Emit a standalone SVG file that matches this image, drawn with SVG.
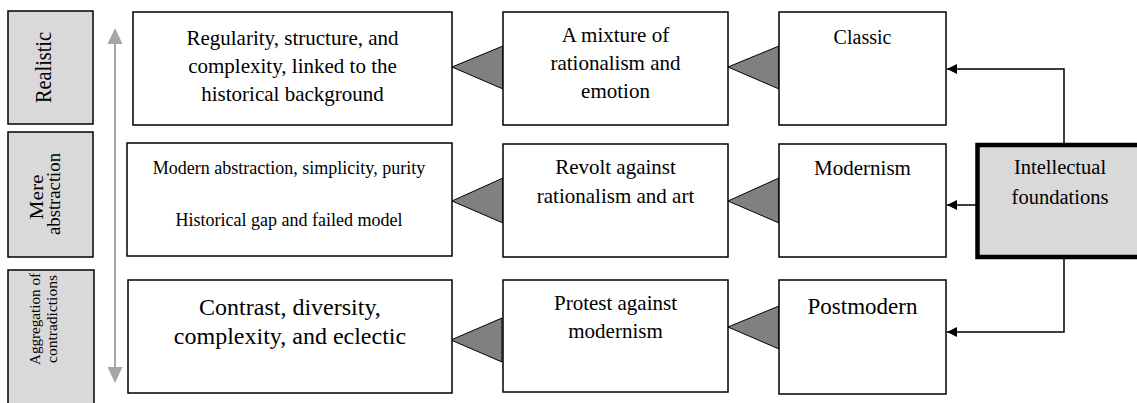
<svg xmlns="http://www.w3.org/2000/svg" width="1137" height="403" viewBox="0 0 1137 403">
<style>
text{font-family:"Liberation Serif","Times New Roman",serif;fill:#000;text-anchor:middle}
.box{fill:#fff;stroke:#000;stroke-width:1.5}
.lbl{fill:#d9d9d9;stroke:#000;stroke-width:1.5}
.tri{fill:#808080;stroke:#000;stroke-width:1}
.con{fill:none;stroke:#000;stroke-width:1.5}
.gray{stroke:#a6a6a6;stroke-width:2;fill:none}
</style>
<defs>
<marker id="ah" viewBox="0 0 10 10" refX="10" refY="5" markerWidth="10" markerHeight="10" markerUnits="userSpaceOnUse" orient="auto">
<path d="M0,0 L10,5 L0,10 Z" fill="#000"/>
</marker>
</defs>
<rect width="1137" height="403" fill="#fff"/>

<g id="label-realistic">
<rect class="lbl" x="8" y="11" width="85" height="113"/>
<text transform="translate(51,67.5) rotate(-90)" font-size="23" textLength="71" lengthAdjust="spacingAndGlyphs">Realistic</text>
</g>
<g id="label-mere">
<rect class="lbl" x="8" y="132" width="85" height="125"/>
<text transform="translate(43,197) rotate(-90)" font-size="18" textLength="45" lengthAdjust="spacingAndGlyphs">Mere</text>
<text transform="translate(60,194) rotate(-90)" font-size="18" textLength="82" lengthAdjust="spacingAndGlyphs">abstraction</text>
</g>
<g id="label-aggregation">
<rect class="lbl" x="8" y="270" width="86" height="140"/>
<text transform="translate(40,319) rotate(-90)" font-size="15.5" textLength="92" lengthAdjust="spacingAndGlyphs">Aggregation of</text>
<text transform="translate(57,319) rotate(-90)" font-size="15.5" textLength="88" lengthAdjust="spacingAndGlyphs">contradictions</text>
</g>

<g id="connectors">
<line class="gray" x1="115" y1="42" x2="115" y2="369"/>
<path d="M115,28 L122.5,44 L107.5,44 Z" fill="#a6a6a6"/>
<path d="M115,383 L122.5,367 L107.5,367 Z" fill="#a6a6a6"/>
<polygon class="tri" points="452,67 503,46 503,89"/>
<polygon class="tri" points="728,67 779,46 779,89"/>
<polygon class="tri" points="452,201 503,178 503,223"/>
<polygon class="tri" points="728,201 779,178 779,223"/>
<polygon class="tri" points="451,340 502,318 502,362"/>
<polygon class="tri" points="728,327 779,306 779,349"/>
<path class="con" d="M1064,143 L1064,69 L947,69" marker-end="url(#ah)"/>
<path class="con" d="M976,205 L947,205" marker-end="url(#ah)"/>
<path class="con" d="M1064,259 L1064,332 L947,332" marker-end="url(#ah)"/>
</g>

<g id="n-regularity">
<rect class="box" x="133" y="12" width="319" height="113"/>
<text x="292.5" y="45" font-size="21">Regularity, structure, and</text>
<text x="292.5" y="73" font-size="21">complexity, linked to the</text>
<text x="292.5" y="101" font-size="21">historical background</text>
</g>
<g id="n-modern-abstraction">
<rect class="box" x="127" y="143" width="325" height="113"/>
<text x="289" y="174" font-size="18">Modern abstraction, simplicity, purity</text>
<text x="289" y="226" font-size="18">Historical gap and failed model</text>
</g>
<g id="n-contrast">
<rect class="box" x="128" y="280" width="324" height="113"/>
<text x="290" y="315" font-size="24">Contrast, diversity,</text>
<text x="290" y="344" font-size="24">complexity, and eclectic</text>
</g>

<g id="n-mixture">
<rect class="box" x="503" y="12" width="225" height="113"/>
<text x="615.5" y="42" font-size="21">A mixture of</text>
<text x="615.5" y="70" font-size="21">rationalism and</text>
<text x="615.5" y="98" font-size="21">emotion</text>
</g>
<g id="n-revolt">
<rect class="box" x="503" y="144" width="225" height="113"/>
<text x="615.5" y="174" font-size="21">Revolt against</text>
<text x="615.5" y="203" font-size="21">rationalism and art</text>
</g>
<g id="n-protest">
<rect class="box" x="503" y="280" width="225" height="112"/>
<text x="615.5" y="310" font-size="21">Protest against</text>
<text x="615.5" y="338" font-size="21">modernism</text>
</g>

<g id="n-classic">
<rect class="box" x="779" y="12" width="167" height="113"/>
<text x="862.5" y="44" font-size="20">Classic</text>
</g>
<g id="n-modernism">
<rect class="box" x="779" y="144" width="167" height="113"/>
<text x="862.5" y="175" font-size="21">Modernism</text>
</g>
<g id="n-postmodern">
<rect class="box" x="779" y="280" width="167" height="114"/>
<text x="862.5" y="314" font-size="23">Postmodern</text>
</g>

<g id="n-intellectual">
<rect x="977.5" y="145" width="170" height="112" fill="#d9d9d9" stroke="#000" stroke-width="4.5"/>
<text x="1060" y="174" font-size="20.5">Intellectual</text>
<text x="1060" y="204" font-size="20.5">foundations</text>
</g>
</svg>
